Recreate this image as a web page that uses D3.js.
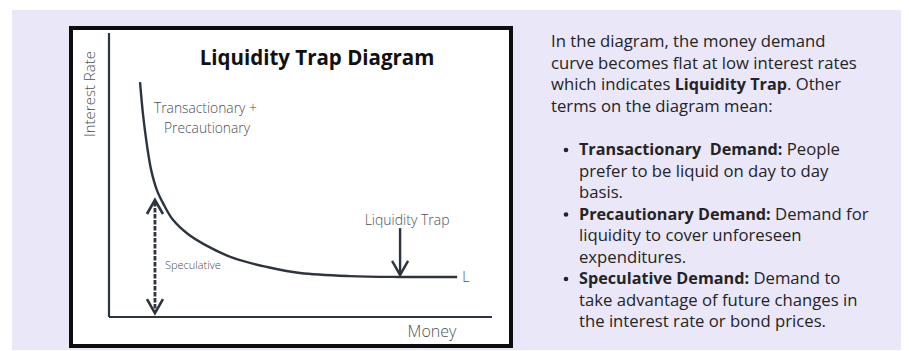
<!DOCTYPE html>
<html>
<head>
<meta charset="utf-8">
<script src="https://cdn.jsdelivr.net/npm/d3@7/dist/d3.min.js"></script>
<style>
  body { margin: 0; background: #fff; }
  svg { display: block; }
  .lbl { font-family: "Open Sans", "Noto Sans", sans-serif; font-weight: 300; fill: #4c4f55; }
  .note { font-family: "Open Sans", "Noto Sans", sans-serif; fill: #242424; }
</style>
</head>
<body>
<div id="chart"></div>
<script>
// money demand curve (0-100 units on each axis)
const money = [8.1, 8.9, 9.9, 11.0, 12.5, 14.1, 16.7, 20.6, 25.1, 32.4, 41.3, 49.9, 62.9, 76.0, 90.9];
const interest = [82.7, 71.1, 60.6, 51.8, 44.7, 40.1, 34.2, 29.2, 25.4, 20.8, 17.6, 15.5, 14.4, 14.1, 14.1];

// speculative range arrow and liquidity trap arrow
const specArrow = { x: 12.0, y0: 41.2, y1: 1.4 };
const trapArrow = { x: 76.0, y0: 31.3, y1: 14.8 };

const title = 'Liquidity Trap Diagram';
const axisLabels = { x: 'Money', y: 'Interest Rate' };
const curveLabels = ['Transactionary +', 'Precautionary'];

// right hand notes, each line is a list of [text, bold]
const introLines = [
  [['In the diagram, the money demand', false]],
  [['curve becomes flat at low interest rates', false]],
  [['which indicates ', false], ['Liquidity Trap', true], ['. Other', false]],
  [['terms on the diagram mean:', false]]
];
const bulletLines = [
  [[['Transactionary  Demand:', true], [' People', false]],
   [['prefer to be liquid on day to day', false]],
   [['basis.', false]]],
  [[['Precautionary Demand:', true], [' Demand for', false]],
   [['liquidity to cover unforeseen', false]],
   [['expenditures.', false]]],
  [[['Speculative Demand:', true], [' Demand to', false]],
   [['take advantage of future changes in', false]],
   [['the interest rate or bond prices.', false]]]
];

const W = 909, H = 351;
const ink = '#2d3440';

const svg = d3.select('#chart').append('svg')
  .attr('width', W).attr('height', H);

svg.append('rect')
  .attr('x', 12).attr('y', 10)
  .attr('width', 889).attr('height', 340)
  .attr('fill', '#e9e7f8');

// framed diagram
svg.append('rect')
  .attr('x', 71).attr('y', 28)
  .attr('width', 440).attr('height', 318)
  .attr('fill', '#fff')
  .attr('stroke', '#0d0d0d')
  .attr('stroke-width', 4);

const x = d3.scaleLinear().domain([0, 100]).range([109, 492]);
const y = d3.scaleLinear().domain([0, 100]).range([317, 33]);

const g = svg.append('g');

// axes as plain lines
g.append('line')
  .attr('x1', x(0)).attr('x2', x(0))
  .attr('y1', y(100)).attr('y2', y(0))
  .attr('stroke', ink).attr('stroke-width', 2.2);
g.append('line')
  .attr('x1', x(0)).attr('x2', x(100))
  .attr('y1', y(0)).attr('y2', y(0))
  .attr('stroke', ink).attr('stroke-width', 2.2);

g.append('text')
  .attr('class', 'lbl')
  .attr('transform', `translate(95, ${y(78.5)}) rotate(-90)`)
  .attr('text-anchor', 'middle')
  .attr('font-size', 15)
  .text(axisLabels.y);

g.append('text')
  .attr('class', 'lbl')
  .attr('x', 432).attr('y', 337)
  .attr('text-anchor', 'middle')
  .attr('font-size', 16)
  .text(axisLabels.x);

svg.append('text')
  .attr('x', 317).attr('y', 65)
  .attr('text-anchor', 'middle')
  .attr('font-family', '"Open Sans", "Noto Sans", sans-serif')
  .attr('font-weight', 700)
  .attr('font-size', 20.5)
  .attr('fill', '#111')
  .text(title);

// money demand curve
const pts = money.map((m, i) => [m, interest[i]]);
const line = d3.line()
  .x(d => x(d[0]))
  .y(d => y(d[1]))
  .curve(d3.curveCatmullRom);

g.append('path')
  .datum(pts)
  .attr('d', line)
  .attr('fill', 'none')
  .attr('stroke', ink)
  .attr('stroke-width', 2.4);

g.append('text')
  .attr('class', 'lbl')
  .attr('x', x(money[money.length - 1]) + 5)
  .attr('y', y(interest[interest.length - 1]) + 5)
  .attr('font-size', 14)
  .text('L');

g.selectAll('.curve-lbl')
  .data(curveLabels)
  .join('text')
  .attr('class', 'lbl curve-lbl')
  .attr('x', (d, i) => i ? 164 : 154)
  .attr('y', (d, i) => 113 + i * 20)
  .attr('font-size', 13.8)
  .text(d => d);

// chevron heads
const chevron = (px, py, dir) =>
  `M${px - 8},${py - dir * 14}L${px},${py}L${px + 8},${py - dir * 14}`;

// speculative dashed double arrow
g.append('line')
  .attr('x1', x(specArrow.x)).attr('x2', x(specArrow.x))
  .attr('y1', y(specArrow.y0) + 2).attr('y2', y(specArrow.y1) - 2)
  .attr('stroke', ink).attr('stroke-width', 2.8)
  .attr('stroke-dasharray', '4.5,1.5');
g.append('path')
  .attr('d', chevron(x(specArrow.x), y(specArrow.y0), -1))
  .attr('fill', 'none').attr('stroke', ink).attr('stroke-width', 2.6);
g.append('path')
  .attr('d', chevron(x(specArrow.x), y(specArrow.y1), 1))
  .attr('fill', 'none').attr('stroke', ink).attr('stroke-width', 2.6);
g.append('text')
  .attr('class', 'lbl')
  .attr('x', x(specArrow.x) + 10)
  .attr('y', 269)
  .attr('font-size', 11)
  .attr('fill', '#6f7277')
  .text('Speculative');

// liquidity trap arrow
g.append('line')
  .attr('x1', x(trapArrow.x)).attr('x2', x(trapArrow.x))
  .attr('y1', y(trapArrow.y0)).attr('y2', y(trapArrow.y1))
  .attr('stroke', ink).attr('stroke-width', 2.4);
g.append('path')
  .attr('d', chevron(x(trapArrow.x), y(trapArrow.y1), 1))
  .attr('fill', 'none').attr('stroke', ink).attr('stroke-width', 2.4);
g.append('text')
  .attr('class', 'lbl')
  .attr('x', x(trapArrow.x) + 7)
  .attr('y', 225)
  .attr('text-anchor', 'middle')
  .attr('font-size', 14)
  .text('Liquidity Trap');

// notes on the right
const addLine = (sel, xPos, yPos, segs) => {
  const t = sel.append('text')
    .attr('class', 'note')
    .attr('x', xPos).attr('y', yPos)
    .attr('xml:space', 'preserve');
  segs.forEach(([s, b]) => {
    t.append('tspan')
      .attr('font-weight', b ? 700 : 400)
      .attr('font-size', b ? 16.2 : 16.7)
      .text(s);
  });
};

const notes = svg.append('g');
const lh = 21.5;
introLines.forEach((segs, i) => addLine(notes, 551, 47 + i * lh, segs));

let row = 0;
bulletLines.forEach(item => {
  notes.append('circle')
    .attr('cx', 566).attr('cy', 155 + row * lh - 5)
    .attr('r', 2.3)
    .attr('fill', '#242424');
  item.forEach(segs => {
    addLine(notes, 579, 155 + row * lh, segs);
    row++;
  });
});
</script>
</body>
</html>
